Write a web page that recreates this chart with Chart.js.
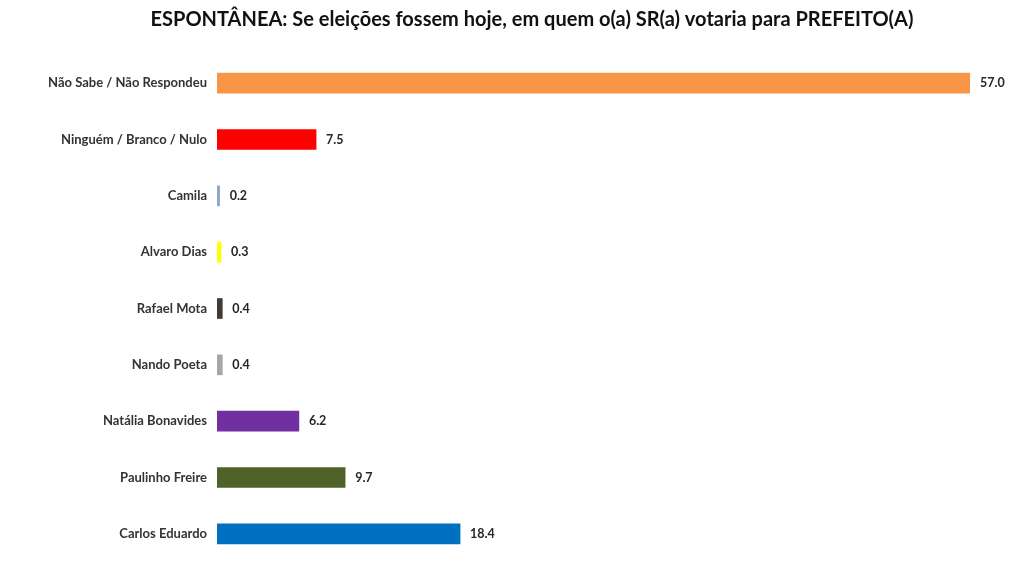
<!DOCTYPE html>
<html>
<head>
<meta charset="utf-8">
<script src="https://cdn.jsdelivr.net/npm/chart.js@4"></script>
<style>
  html, body { margin: 0; padding: 0; background: #fff; overflow: hidden; }
  canvas { display: block; }
</style>
</head>
<body>
<canvas id="c" width="1024" height="575" style="width:1024px;height:575px"></canvas>
<script>
/* ---- DATA --------------------------------------------------- */
const TITLE = 'ESPONTÂNEA: Se eleições fossem hoje, em quem o(a) SR(a) votaria para PREFEITO(A)';
const candidatos = [
  'Não Sabe / Não Respondeu', 'Ninguém / Branco / Nulo', 'Camila', 'Alvaro Dias',
  'Rafael Mota', 'Nando Poeta', 'Natália Bonavides', 'Paulinho Freire', 'Carlos Eduardo'
];
const votos = [57.0, 7.5, 0.2, 0.3, 0.4, 0.4, 6.2, 9.7, 18.4];
const cores = [
  '#F79646', '#FF0000', '#8EA9C8', '#FFFF00',
  '#403A36', '#A6A6A6', '#7030A0', '#4F6228', '#0070C0'
];

const FONT = 'Lato, "Open Sans", sans-serif';

/* ---- TITLE + VALUE LABELS ----------------------------------- */
// title is drawn here so it can sit a bit right of the canvas centre, as in the source
const extras = {
  id: 'extras',
  afterDraw(chart) {
    const ctx = chart.ctx;
    ctx.save();
    ctx.font = 'bold 20px ' + FONT;
    ctx.fillStyle = '#111';
    ctx.textAlign = 'center';
    ctx.textBaseline = 'middle';
    ctx.fillText(TITLE, 532, 20);
    ctx.restore();
  },
  afterDatasetsDraw(chart) {
    const ctx = chart.ctx;
    const meta = chart.getDatasetMeta(0);
    ctx.save();
    ctx.font = 'bold 12.5px ' + FONT;
    ctx.fillStyle = '#262626';
    ctx.textAlign = 'left';
    ctx.textBaseline = 'middle';
    meta.data.forEach((bar, i) => {
      ctx.fillText(votos[i].toFixed(1), bar.x + 10, bar.y);
    });
    ctx.restore();
  }
};

/* ---- CHART -------------------------------------------------- */
new Chart(document.getElementById('c'), {
  type: 'bar',
  data: {
    labels: candidatos,
    datasets: [{
      data: votos,
      backgroundColor: cores,
      borderWidth: 0,
      barThickness: 20
    }]
  },
  options: {
    indexAxis: 'y',
    responsive: false,
    animation: false,
    layout: { padding: { left: 0, right: 54, top: 55, bottom: 13 } },
    plugins: {
      legend: { display: false },
      tooltip: { enabled: false },
      title: { display: false }
    },
    scales: {
      x: { display: false, min: 0, max: 57 },
      y: {
        // tick padding also pads the axis ends, so the label gap comes from tickLength
        grid: { display: false, drawTicks: true, tickLength: 10 },
        border: { display: false },
        afterFit(scale) { scale.width = 217; },
        ticks: {
          color: '#333',
          padding: 0,
          font: { family: FONT, size: 13, weight: 'bold' }
        }
      }
    }
  },
  plugins: [extras]
});
</script>
</body>
</html>
